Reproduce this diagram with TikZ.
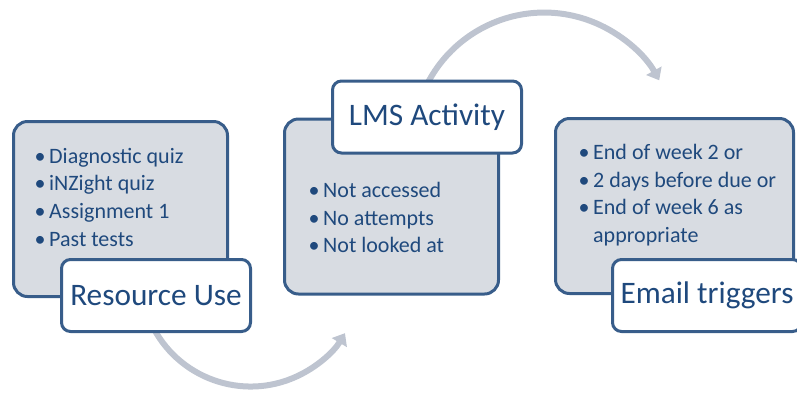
\documentclass[tikz,border=0pt]{standalone}
\usepackage{fontspec}
\setmainfont{Carlito}
\usepackage{tikz}
\definecolor{txtblue}{RGB}{31,73,125}
\definecolor{edgeblue}{RGB}{56,93,138}
\definecolor{panelgrey}{RGB}{216,220,226}
\definecolor{flowgrey}{RGB}{190,196,208}
\usetikzlibrary{positioning,arrows.meta,backgrounds}
\tikzset{%
  panel/.style={draw=edgeblue, line width=3pt, fill=panelgrey, rounded corners=14pt,
    minimum width=214pt, minimum height=175pt},% grey box
  title/.style={draw=edgeblue, line width=3pt, fill=white, rounded corners=9pt,
    minimum width=189pt, minimum height=72pt, text=txtblue,
    font=\fontsize{31.3}{36}\selectfont},% white label
  items/.style={align=left, inner sep=0pt, text=txtblue,
    font=\fontsize{22}{27.7}\selectfont},% bullet list (base = last line)
  turn/.style={draw=flowgrey, line width=6pt, -{Triangle[width=17pt,length=11pt]}}% curved arrow
}
\newcommand*{\bul}{\makebox[14.5pt][l]{\textbullet}}

\begin{document}
\begin{tikzpicture}[x=1pt,y=1pt]
\useasboundingbox (0,0) rectangle (797,-392);

\node[panel] (rbox) at (120.5,-209) {};
\node[panel] (lbox) at (391.5,-206.5) {};
\node[panel, minimum width=238pt] (ebox) at (674.5,-206) {};

\node[title] (rlab) at (156,-295.5) {Resource Use};
\node[title] (llab) at (427,-117) {LMS Activity};
\node[title] (elab) at (707,-295.5) {Email triggers};

\node[items, below right=126.3pt and 22.5pt of rbox.north west, anchor=base west] (rlist)
  {\bul Diagnostic quiz\\ \bul iNZight quiz\\ \bul Assignment 1\\ \bul Past tests};
\node[items, below right=135.4pt and 25.5pt of lbox.north west, anchor=base west] (llist)
  {\bul Not accessed\\ \bul No attempts\\ \bul Not looked at};
\node[items, below right=125.6pt and 24.5pt of ebox.north west, anchor=base west] (elist)
  {\bul End of week 2 or\\ \bul 2 days before due or\\ \bul End of week 6 as\\ \hspace*{14.5pt}appropriate};

\begin{scope}[on background layer]
\draw[turn] ([shift={(-5pt,10pt)}]rlab.south) arc[start angle=205, end angle=329, radius=110pt];
\draw[turn] ([shift={(-2pt,-9pt)}]llab.north) arc[start angle=155, end angle=29, radius=131.5pt];
\end{scope}

\end{tikzpicture}
\end{document}
